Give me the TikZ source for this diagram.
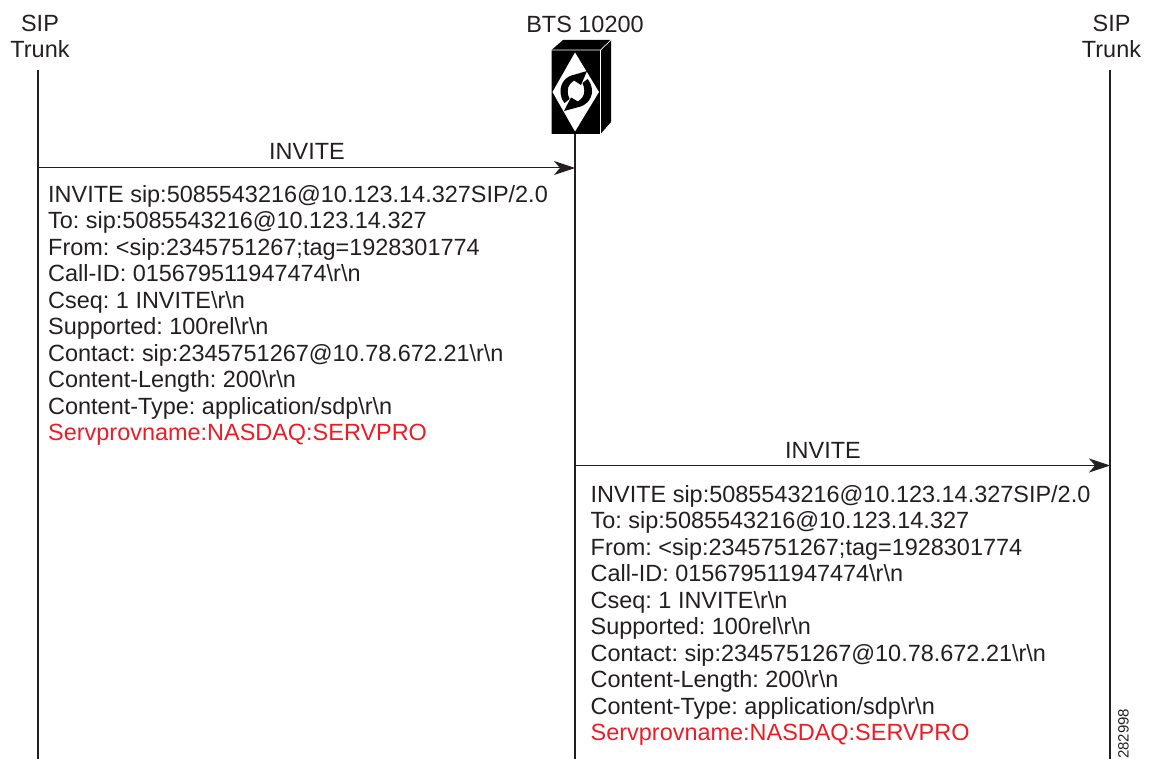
\documentclass[tikz,border=0pt]{standalone}
\usepackage{fontspec}
\setmainfont{Liberation Sans}
\usetikzlibrary{arrows.meta}
\definecolor{ink}{HTML}{231F20}
\definecolor{sred}{HTML}{ED1C24}
\tikzset{
  lab/.style={inner sep=0pt,font=\fontsize{23.45}{26.5}\selectfont\frenchspacing,text=ink},
  head/.style={lab,align=center},
  msgblock/.style={lab,align=left,anchor=north west},
  life/.style={draw=ink,line width=2.4pt},
  msg/.style={draw=ink,line width=1pt,-{Stealth[length=21pt,width=14pt,inset=6pt]}},
  serial/.style={inner sep=0pt,font=\fontsize{15}{16}\selectfont,text=ink,rotate=90,anchor=south west}
}
\newcommand{\sipmsg}{INVITE sip:5085543216@10.123.14.327SIP/2.0\\
To: sip:5085543216@10.123.14.327\\
From: <sip:2345751267;tag=1928301774\\
Call-ID: 015679511947474\textbackslash r\textbackslash n\\
Cseq: 1 INVITE\textbackslash r\textbackslash n\\
Supported: 100rel\textbackslash r\textbackslash n\\
Contact: sip:2345751267@10.78.672.21\textbackslash r\textbackslash n\\
Content-Length: 200\textbackslash r\textbackslash n\\
Content-Type: application/sdp\textbackslash r\textbackslash n\\
\textcolor{sred}{Servprovname:NASDAQ:SERVPRO}}
\begin{document}
\begin{tikzpicture}[x=1pt,y=-1pt]
\useasboundingbox (0,0) rectangle (1153,759);
% heads
\node[head] (lefthead) at (40,36.5) {SIP\\Trunk};
\node[head] (righthead) at (1111.5,36.5) {SIP\\Trunk};
\node[lab] (btshead) at (585,24) {BTS 10200};
% lifeline ends
\coordinate (ltop) at (38,70);
\coordinate (lbot) at (38,759);
\coordinate (rtop) at (1110,70);
\coordinate (rbot) at (1110,759);
\coordinate (mtop) at (575,134);
\coordinate (mbot) at (575,759);
\draw[life] (ltop) -- (lbot);
\draw[life] (rtop) -- (rbot);
\draw[life] (mtop) -- (mbot);
% BTS icon
\fill[black] (551.5,50) -- (563,40) -- (611,40) -- (611,122) -- (600.5,134) -- (551.5,134) -- cycle;
\draw[white,line width=0.7pt] (551.5,50) -- (600.5,50) -- (600.5,134) (600.5,50) -- (611,40);
\fill[white] (575,52.5) -- (599,92) -- (575,131.5) -- (552.5,92) -- cycle;
% swirl arrows
\fill[black] (587,71) -- (575,74.5)
  .. controls (566,76) and (560.5,83) .. (560.5,91)
  .. controls (560.5,96) and (562,100) .. (564.5,103)
  -- (569.5,99)
  .. controls (567,94) and (567,88) .. (570,84)
  -- (574,80.5) -- (581,85) -- cycle;
\fill[black] (564,111) -- (577,107.5)
  .. controls (586,106) and (592,99) .. (592,91)
  .. controls (592,86) and (590,82) .. (587.5,79)
  -- (582.5,83)
  .. controls (585,88) and (585,94) .. (582,98)
  -- (578,101.5) -- (571,97.5) -- cycle;
% messages
\coordinate (a1s) at (38,168);
\coordinate (a1e) at (575,168);
\coordinate (a2s) at (575,465.5);
\coordinate (a2e) at (1110,465.5);
\draw[msg] (a1s) -- (a1e);
\draw[msg] (a2s) -- (a2e);
\node[lab] (inv1) at (307,151.5) {INVITE};
\node[lab] (inv2) at (823,450) {INVITE};
\node[msgblock] (blk1) at (48,185) {\sipmsg};
\node[msgblock] (blk2) at (590.5,485) {\sipmsg};
\node[serial] (num) at (1129,759) {282998};
\end{tikzpicture}
\end{document}
